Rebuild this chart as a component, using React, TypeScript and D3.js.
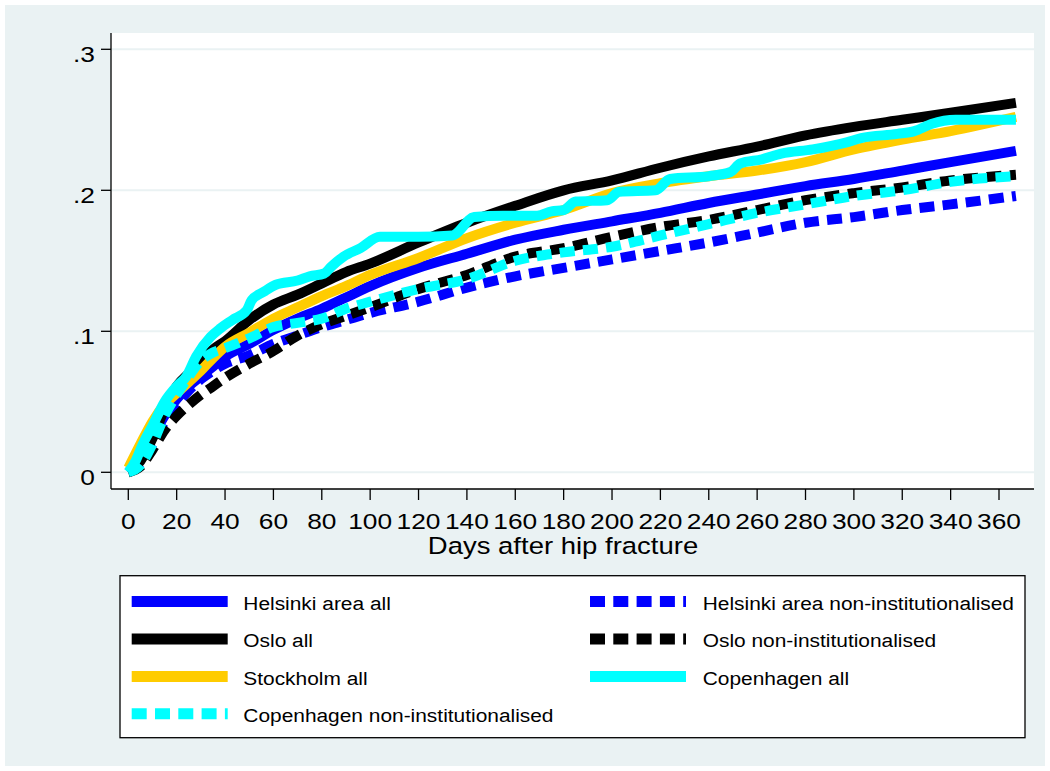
import React from 'react';
import * as d3 from 'd3';

// Cumulative incidence over the first year after hip fracture
const DAYS = [0, 5, 10, 15, 20, 25, 30, 35, 40, 50, 60, 70, 80, 90, 100, 120, 140, 160, 180, 200, 220, 240, 260, 280, 300, 320, 340, 367];

const helsinkiAll = [0, 0.010, 0.025, 0.040, 0.052, 0.061, 0.068, 0.075, 0.082, 0.091, 0.101, 0.109, 0.116, 0.124, 0.132, 0.145, 0.155, 0.165, 0.172, 0.178, 0.184, 0.191, 0.197, 0.203, 0.208, 0.214, 0.220, 0.228];
const helsinkiNonInst = [0, 0.006, 0.020, 0.036, 0.048, 0.058, 0.066, 0.072, 0.077, 0.083, 0.091, 0.097, 0.103, 0.108, 0.113, 0.121, 0.131, 0.139, 0.145, 0.151, 0.157, 0.163, 0.170, 0.177, 0.181, 0.186, 0.190, 0.196];
const osloAll = [0, 0.008, 0.024, 0.045, 0.061, 0.070, 0.078, 0.087, 0.093, 0.108, 0.119, 0.126, 0.134, 0.142, 0.148, 0.163, 0.177, 0.189, 0.200, 0.207, 0.216, 0.224, 0.231, 0.239, 0.245, 0.250, 0.255, 0.262];
const osloNonInst = [0, 0.004, 0.016, 0.030, 0.040, 0.048, 0.055, 0.061, 0.067, 0.077, 0.086, 0.097, 0.105, 0.111, 0.117, 0.130, 0.140, 0.153, 0.159, 0.167, 0.174, 0.179, 0.186, 0.193, 0.198, 0.202, 0.207, 0.211];
const stockholmAll = [0.003, 0.020, 0.036, 0.048, 0.056, 0.064, 0.072, 0.081, 0.089, 0.099, 0.109, 0.117, 0.125, 0.132, 0.140, 0.152, 0.166, 0.177, 0.186, 0.198, 0.205, 0.210, 0.214, 0.220, 0.229, 0.236, 0.242, 0.252];
const copenhagenNonInst = [0, 0.005, 0.020, 0.040, 0.055, 0.068, 0.079, 0.085, 0.088, 0.095, 0.103, 0.106, 0.109, 0.116, 0.121, 0.130, 0.137, 0.150, 0.156, 0.160, 0.168, 0.176, 0.184, 0.190, 0.196, 0.200, 0.206, 0.210];

// Copenhagen (all) moves in visible steps, so it carries its own day grid
const COPENHAGEN_DAYS = [0, 3, 6, 10, 15, 20, 24, 28, 34, 38, 43, 49, 51, 56, 61, 70, 75, 81, 84, 89, 96, 104, 120, 134, 143, 155, 169, 175, 180, 185, 198, 203, 218, 224, 240, 249, 253, 262, 270, 283, 297, 303, 318, 325, 332, 342, 367];
const copenhagenAll = [0, 0.008, 0.020, 0.033, 0.050, 0.061, 0.068, 0.082, 0.096, 0.102, 0.108, 0.115, 0.122, 0.128, 0.133, 0.136, 0.139, 0.141, 0.146, 0.153, 0.159, 0.167, 0.167, 0.168, 0.181, 0.182, 0.182, 0.185, 0.186, 0.192, 0.193, 0.199, 0.200, 0.208, 0.210, 0.213, 0.219, 0.222, 0.226, 0.229, 0.234, 0.237, 0.240, 0.242, 0.247, 0.250, 0.250];

const X_TICKS = [0, 20, 40, 60, 80, 100, 120, 140, 160, 180, 200, 220, 240, 260, 280, 300, 320, 340, 360];
const Y_TICKS = [0, 0.1, 0.2, 0.3];
const Y_TICK_LABELS = ['0', '.1', '.2', '.3'];
const X_TITLE = 'Days after hip fracture';

const BLUE = '#0000FF';
const BLACK = '#000000';
const GOLD = '#FFCC00';
const CYAN = '#00FFFF';
const PANEL = '#EAF2F3';
const FONT = "'Liberation Sans', Arial, Helvetica, sans-serif";

type Series = { label: string; days: number[]; values: number[]; color: string; dashed: boolean };

// Drawing order (later series on top); the legend is filled row by row in the same order
const SERIES: Series[] = [
  { label: 'Helsinki area all', days: DAYS, values: helsinkiAll, color: BLUE, dashed: false },
  { label: 'Helsinki area non-institutionalised', days: DAYS, values: helsinkiNonInst, color: BLUE, dashed: true },
  { label: 'Oslo all', days: DAYS, values: osloAll, color: BLACK, dashed: false },
  { label: 'Oslo non-institutionalised', days: DAYS, values: osloNonInst, color: BLACK, dashed: true },
  { label: 'Stockholm all', days: DAYS, values: stockholmAll, color: GOLD, dashed: false },
  { label: 'Copenhagen all', days: COPENHAGEN_DAYS, values: copenhagenAll, color: CYAN, dashed: false },
  { label: 'Copenhagen non-institutionalised', days: DAYS, values: copenhagenNonInst, color: CYAN, dashed: true },
];

const W = 1050;
const H = 771;
const plot = { left: 111, right: 1034, top: 33, bottom: 489 };
const LINE_W = 10;
const DASH = '15 8.3';

function StretchText(props: { x: number; y: number; sx: number; size: number; anchor: string; children: string }) {
  const { x, y, sx, size, anchor, children } = props;
  return (
    <g transform={`translate(${x},${y}) scale(${sx},1)`}>
      <text x={0} y={0} fontSize={size} fontFamily={FONT} textAnchor={anchor} fill="#000">
        {children}
      </text>
    </g>
  );
}

export default function App() {
  const x = d3.scaleLinear().domain([0, 360]).range([128.3, 999]);
  const y = d3.scaleLinear().domain([0, 0.3]).range([472.3, 49.3]);

  const lineFor = (s: Series) =>
    d3
      .line<number>()
      .x((_, i) => x(s.days[i]))
      .y((v) => y(v))
      .curve(d3.curveMonotoneX)(s.values) || '';

  const legendBox = { x: 120, y: 575.7, w: 905, h: 162 };
  const rowY = (r: number) => 601.5 + r * 37.45;
  const cols = [
    { x0: 131.7, x1: 227.7, tx: 243.3 },
    { x0: 590, x1: 686, tx: 702.7 },
  ];

  return (
    <svg
      width={W}
      height={H}
      viewBox={`0 0 ${W} ${H}`}
      style={{ position: 'absolute', left: 0, top: 0, background: '#fff' }}
    >
      <rect x={0} y={0} width={W} height={H} fill="#fff" />
      <rect x={5} y={5} width={1040} height={761} fill={PANEL} />
      <rect x={plot.left} y={plot.top} width={plot.right - plot.left} height={plot.bottom - plot.top} fill="#fff" />

      {/* horizontal grid */}
      {Y_TICKS.map((t) => (
        <line key={`g${t}`} x1={plot.left} x2={plot.right} y1={y(t)} y2={y(t)} stroke={PANEL} strokeWidth={2} />
      ))}

      {/* curves */}
      <g fill="none">
        {SERIES.map((s) => (
          <path
            key={s.label}
            d={lineFor(s)}
            stroke={s.color}
            strokeWidth={LINE_W}
            strokeDasharray={s.dashed ? DASH : undefined}
            strokeLinejoin="round"
            strokeLinecap="butt"
          />
        ))}
      </g>

      {/* axes */}
      <line x1={plot.left} x2={plot.left} y1={plot.top} y2={plot.bottom} stroke="#000" strokeWidth={1.3} />
      <line x1={plot.left} x2={plot.right} y1={plot.bottom} y2={plot.bottom} stroke="#000" strokeWidth={1.3} />

      {Y_TICKS.map((t, i) => (
        <g key={`yt${t}`}>
          <line x1={plot.left - 10} x2={plot.left} y1={y(t)} y2={y(t)} stroke="#000" strokeWidth={1.3} />
          <StretchText x={95} y={y(t) + 12.5} sx={1.17} size={22.5} anchor="end">
            {Y_TICK_LABELS[i]}
          </StretchText>
        </g>
      ))}

      {X_TICKS.map((t) => (
        <g key={`xt${t}`}>
          <line x1={x(t)} x2={x(t)} y1={plot.bottom} y2={plot.bottom + 11} stroke="#000" strokeWidth={1.3} />
          <StretchText x={x(t)} y={529.3} sx={1.17} size={22.5} anchor="middle">
            {String(t)}
          </StretchText>
        </g>
      ))}

      <StretchText x={563} y={554.3} sx={1.17} size={23.5} anchor="middle">
        {X_TITLE}
      </StretchText>

      {/* legend */}
      <rect
        x={legendBox.x}
        y={legendBox.y}
        width={legendBox.w}
        height={legendBox.h}
        fill="#fff"
        stroke="#000"
        strokeWidth={1.3}
      />
      {SERIES.map((s, i) => {
        const row = Math.floor(i / 2);
        const c = cols[i % 2];
        const ly = rowY(row);
        return (
          <g key={`lg${s.label}`}>
            <line
              x1={c.x0}
              x2={c.x1}
              y1={ly}
              y2={ly}
              stroke={s.color}
              strokeWidth={11}
              strokeDasharray={s.dashed ? DASH : undefined}
            />
            <StretchText x={c.tx} y={ly + 8.5} sx={1.1} size={19} anchor="start">
              {s.label}
            </StretchText>
          </g>
        );
      })}
    </svg>
  );
}
